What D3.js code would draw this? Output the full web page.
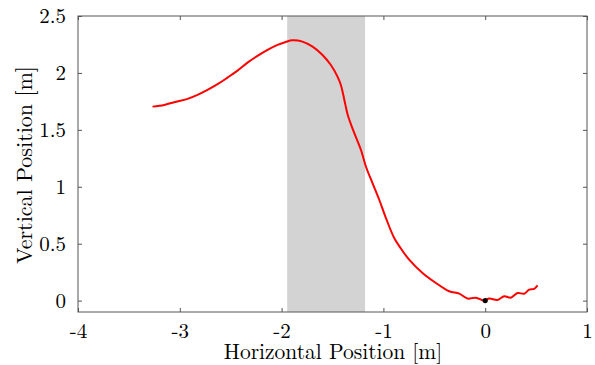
<!DOCTYPE html>
<html><head><meta charset="utf-8">
<script src="https://cdn.jsdelivr.net/npm/d3@7"></script>
<style>body{margin:0;background:#fff}svg{display:block}</style>
</head><body>
<svg id="c" width="595" height="365"></svg>
<script>
const xTicks = [-4, -3, -2, -1, 0, 1];
const yTicks = [0, 0.5, 1, 1.5, 2, 2.5];
const xTickLabels = ["-4", "-3", "-2", "-1", "0", "1"];
const yTickLabels = ["0", "0.5", "1", "1.5", "2", "2.5"];
const shadeRange = [-1.945, -1.18];
const trajX = [-3.268,-3.153,-3.055,-2.924,-2.826,-2.728,-2.629,-2.531,-2.433,-2.335,-2.237,-2.138,-2.040,-1.960,-1.893,-1.795,-1.696,-1.598,-1.516,-1.451,-1.420,-1.395,-1.372,-1.350,-1.303,-1.221,-1.172,-1.107,-1.041,-0.975,-0.894,-0.830,-0.747,-0.616,-0.484,-0.354,-0.255,-0.174,-0.092,-0.010,0.039,0.121,0.187,0.252,0.318,0.383,0.432,0.481,0.514];
const trajY = [1.704,1.719,1.743,1.772,1.807,1.851,1.901,1.959,2.020,2.090,2.149,2.202,2.246,2.272,2.287,2.275,2.231,2.158,2.070,1.968,1.900,1.810,1.715,1.630,1.510,1.325,1.178,1.032,0.886,0.725,0.550,0.460,0.360,0.243,0.155,0.082,0.061,0.018,0.026,0.000,0.018,0.006,0.038,0.026,0.067,0.061,0.096,0.103,0.134];
const originPoint = [0, 0];

const svg = d3.select("#c");
const L = 78, R = 587, T = 16, B = 312;
const x = d3.scaleLinear().domain([-4, 1]).range([L, R]);
const y = d3.scaleLinear().domain([-0.1, 2.5]).range([B, T]);
const axisCol = "#555";
const FONT = '"Latin Modern Roman"';

svg.append("rect")
  .attr("x", x(shadeRange[0])).attr("y", T)
  .attr("width", x(shadeRange[1]) - x(shadeRange[0])).attr("height", B - T)
  .attr("fill", "#d3d3d3");

const line = d3.line().x(d => x(d[0])).y(d => y(d[1])).curve(d3.curveCatmullRom);
svg.append("path")
  .datum(trajX.map((v, i) => [v, trajY[i]]))
  .attr("d", line).attr("fill", "none").attr("stroke", "#ff0000").attr("stroke-width", 2);

svg.append("circle").attr("cx", x(originPoint[0])).attr("cy", y(originPoint[1])).attr("r", 2.6).attr("fill", "#000");

svg.append("rect").attr("x", L).attr("y", T).attr("width", R - L).attr("height", B - T)
  .attr("fill", "none").attr("stroke", axisCol).attr("stroke-width", 1);

const tl = 4;
const gx = svg.append("g").attr("transform", `translate(0,${B})`)
  .call(d3.axisBottom(x).tickValues(xTicks).tickSizeInner(-tl).tickSizeOuter(0)
    .tickFormat((d, i) => xTickLabels[i]));
const gxt = svg.append("g").attr("transform", `translate(0,${T})`)
  .call(d3.axisTop(x).tickValues(xTicks).tickSizeInner(-tl).tickSizeOuter(0).tickFormat(""));
const gy = svg.append("g").attr("transform", `translate(${L},0)`)
  .call(d3.axisLeft(y).tickValues(yTicks).tickSizeInner(-tl).tickSizeOuter(0)
    .tickFormat((d, i) => yTickLabels[i]).tickPadding(12));
const gyr = svg.append("g").attr("transform", `translate(${R},0)`)
  .call(d3.axisRight(y).tickValues(yTicks).tickSizeInner(-tl).tickSizeOuter(0).tickFormat(""));
[gx, gxt, gy, gyr].forEach(g => {
  g.attr("font-family", null);
  g.select(".domain").remove();
  g.selectAll("line").attr("stroke", axisCol);
  g.selectAll("text").style("font-family", FONT).attr("font-size", 21).attr("fill", "#000");
});
gx.selectAll("text").attr("dy", null).attr("y", 26);
gy.selectAll("text").attr("dy", "0.33em");

svg.append("text").attr("x", 333).attr("y", 359).attr("text-anchor", "middle")
  .style("font-family", FONT).attr("font-size", 21.5).text("Horizontal Position [m]");
svg.append("text").attr("transform", "translate(32,165) rotate(-90)").attr("text-anchor", "middle")
  .style("font-family", FONT).attr("font-size", 22).text("Vertical Position [m]");
</script>
</body></html>
